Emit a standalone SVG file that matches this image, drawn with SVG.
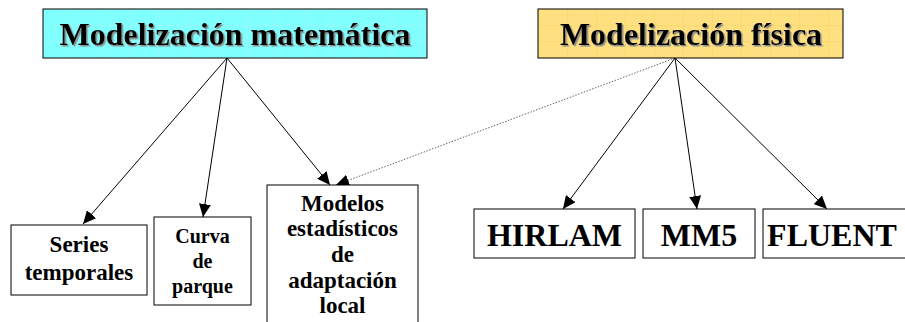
<svg xmlns="http://www.w3.org/2000/svg" width="905" height="322" viewBox="0 0 905 322">
<style>
.box{fill:#fff;stroke:#000;stroke-width:1}
.t{font-weight:bold;fill:#000;text-anchor:middle}
.title{font-size:32px;filter:url(#sh)}
.big{font-size:32px}
.mid{font-size:23px}
.sm{font-size:20px}
.edge{stroke:#000;stroke-width:1;fill:none;marker-end:url(#ah)}
.dot{stroke:#666;stroke-width:1;stroke-dasharray:1.5 1.5;fill:none;marker-end:url(#ah)}
</style>
<defs>
<marker id="ah" markerUnits="userSpaceOnUse" markerWidth="14" markerHeight="12" refX="13" refY="6" orient="auto">
<path d="M0,0 L13,6 L0,12 Z" fill="#000"/>
</marker>
<filter id="sh" x="-5%" y="-20%" width="110%" height="140%">
<feDropShadow dx="1.5" dy="1.5" stdDeviation="0.3" flood-color="#888" flood-opacity="1"/>
</filter>
<pattern id="gc" width="29" height="16" patternUnits="userSpaceOnUse" x="43" y="9">
<rect width="29" height="16" fill="#80FFFF"/>
<path d="M0,0 V16 M0,0 H29" stroke="#A8F4F4" stroke-width="1"/>
</pattern>
<pattern id="gy" width="29" height="16" patternUnits="userSpaceOnUse" x="538" y="9">
<rect width="29" height="16" fill="#FFE080"/>
<path d="M0,0 V16 M0,0 H29" stroke="#F8D060" stroke-width="1"/>
</pattern>
</defs>
<g id="connectors">
<line class="edge" x1="227" y1="58" x2="83" y2="224"/>
<line class="edge" x1="227" y1="58" x2="203" y2="217"/>
<line class="edge" x1="227" y1="58" x2="330" y2="185"/>
<line class="dot" x1="675" y1="58" x2="336" y2="185"/>
<line class="edge" x1="675" y1="58" x2="563" y2="209"/>
<line class="edge" x1="675" y1="58" x2="697" y2="209"/>
<line class="edge" x1="675" y1="58" x2="827" y2="209"/>
</g>
<g font-family="Liberation Serif, Tinos, DejaVu Serif, serif">
<g id="mat">
<rect x="43" y="9" width="384" height="49" fill="url(#gc)" stroke="#000" stroke-width="1"/>
<text class="t title" x="235" y="45">Modelización matemática</text>
</g>
<g id="fis">
<rect x="538" y="9" width="305" height="49" fill="url(#gy)" stroke="#000" stroke-width="1"/>
<text class="t title" x="691" y="45">Modelización física</text>
</g>
<g id="series">
<rect class="box" x="11" y="225" width="136" height="70"/>
<text class="t mid" x="79" y="252">Series</text>
<text class="t mid" x="79" y="280">temporales</text>
</g>
<g id="curva">
<rect class="box" x="154" y="217" width="97" height="88"/>
<text class="t sm" x="202.5" y="243">Curva</text>
<text class="t sm" x="202.5" y="268">de</text>
<text class="t sm" x="202.5" y="293">parque</text>
</g>
<g id="modelos">
<rect class="box" x="267" y="185" width="151" height="150"/>
<text class="t mid" x="342.5" y="211">Modelos</text>
<text class="t mid" x="342.5" y="236">estadísticos</text>
<text class="t mid" x="342.5" y="262">de</text>
<text class="t mid" x="342.5" y="288">adaptación</text>
<text class="t mid" x="342.5" y="313">local</text>
</g>
<g id="hirlam">
<rect class="box" x="474" y="209" width="161" height="49"/>
<text class="t big" x="554.5" y="246">HIRLAM</text>
</g>
<g id="mm5">
<rect class="box" x="643" y="209" width="112" height="49"/>
<text class="t big" x="699" y="246">MM5</text>
</g>
<g id="fluent">
<rect class="box" x="763" y="209" width="150" height="49"/>
<text class="t big" x="832" y="246">FLUENT</text>
</g>
</g>
</svg>
